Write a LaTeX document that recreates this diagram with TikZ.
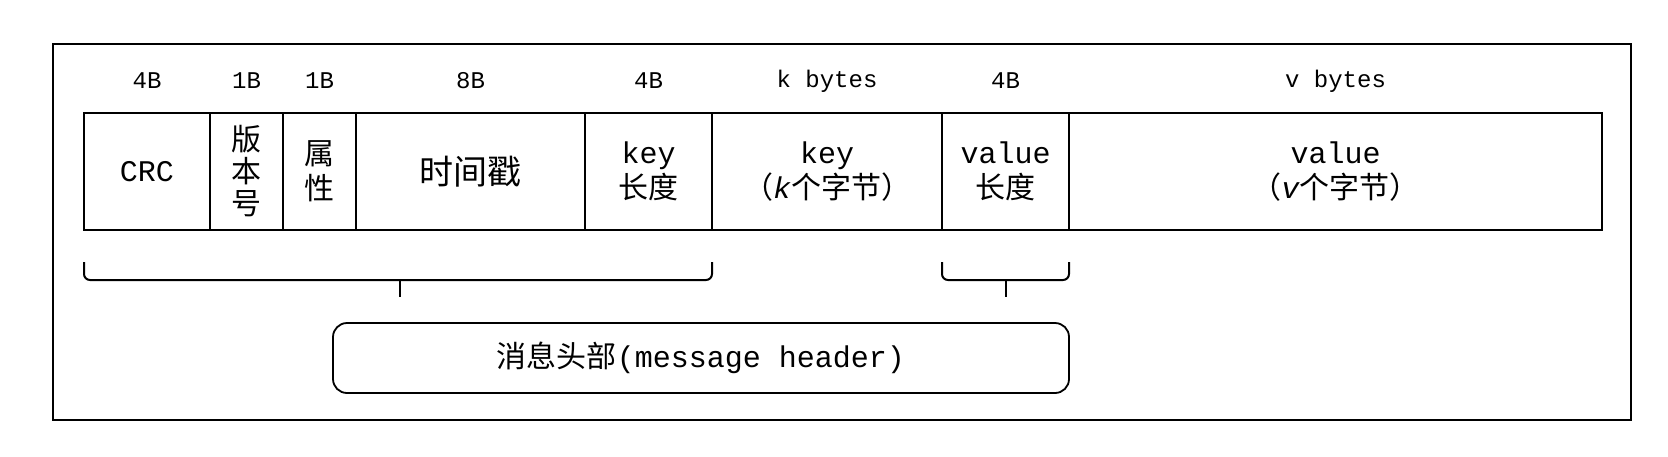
\documentclass[tikz,border=0pt]{standalone}
\usepackage{fontspec}
\setmainfont{Liberation Mono}
\newfontfamily\cjk{Noto Sans CJK SC}
\begin{document}
\begin{tikzpicture}[x=0.5pt,y=-0.5pt,
  cell/.style={draw, line width=0.9pt, minimum height=58.5pt, inner sep=0pt, align=center,
    font=\fontsize{15}{17.5}\selectfont},
  bytes/.style={inner sep=0pt, font=\fontsize{12}{14}\selectfont},
  bracepath/.style={line width=1pt, rounded corners=3pt},
  frame/.style={line width=1.2pt},
  hdrbox/.style={draw, line width=0.9pt, rounded corners=7pt, inner sep=0pt,
    font=\fontsize{15}{17}\selectfont}]
\useasboundingbox (0,0) rectangle (1668,456);
\draw[frame] (53,44) rectangle (1631,420);
% cells
\node[cell, minimum width=63pt]    (crc)  at (147,171.5)   {CRC};
\node[cell, minimum width=36.5pt, font=\fontsize{15}{16}\selectfont]  (ver)  at (246.5,171.5) {\cjk 版\\\cjk 本\\\cjk 号};
\node[cell, minimum width=36.5pt]  (attr) at (319.5,171.5) {\cjk 属\\\cjk 性};
\node[cell, minimum width=114.5pt] (ts)   at (470.5,171.5) {\fontsize{17}{19}\selectfont\cjk 时间戳};
\node[cell, minimum width=63.5pt]  (klen) at (648.5,171.5) {key\\\cjk 长度};
\node[cell, minimum width=115pt]   (key)  at (827,171.5)   {key\\{\cjk （}\textit{k}{\cjk 个字节）}};
\node[cell, minimum width=63.5pt]  (vlen) at (1005.5,171.5){value\\\cjk 长度};
\node[cell, minimum width=266.5pt] (val)  at (1335.5,171.5){value\\{\cjk （}\textit{v}{\cjk 个字节）}};
% byte labels
\node[bytes] (bcrc)  at (147,81)    {4B};
\node[bytes] (bver)  at (246.5,81)  {1B};
\node[bytes] (battr) at (319.5,81)  {1B};
\node[bytes] (bts)   at (470.5,81)  {8B};
\node[bytes] (bklen) at (648.5,81)  {4B};
\node[bytes] (bkey)  at (827,81)    {k bytes};
\node[bytes] (bvlen) at (1005.5,81) {4B};
\node[bytes] (bval)  at (1335.5,81) {v bytes};
% braces
\coordinate (b1a) at (84,262);
\coordinate (b1b) at (712,262);
\coordinate (b1t) at (400,280);
\coordinate (b1e) at (400,297);
\draw[bracepath] (b1a) -- (84,280) -- (712,280) -- (b1b);
\draw[line width=1pt] (b1t) -- (b1e);
\coordinate (b2a) at (942,262);
\coordinate (b2b) at (1069,262);
\coordinate (b2t) at (1005.5,280);
\coordinate (b2e) at (1005.5,297);
\draw[bracepath] (b2a) -- (942,280) -- (1069,280) -- (b2b);
\draw[line width=1pt] (b2t) -- (b2e);
% header box
\node[hdrbox, minimum width=368pt, minimum height=35pt] (hdr) at (701,358)
  {{\cjk 消息头部}(message header)};
\end{tikzpicture}
\end{document}
